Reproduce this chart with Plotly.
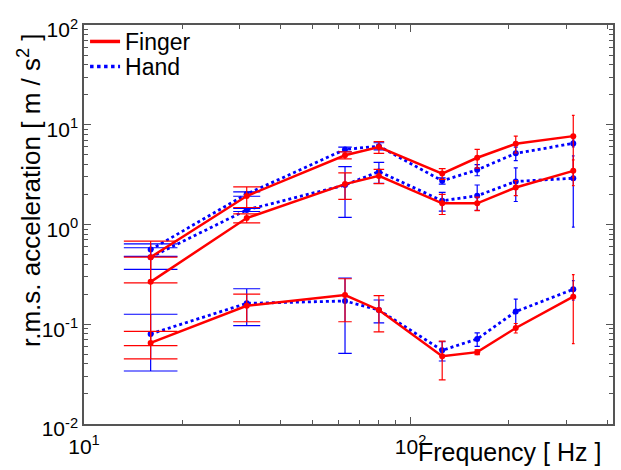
import numpy as np
import plotly.graph_objects as go

# ---------------- data ----------------
freq = [16, 31.5, 63, 80, 125, 160, 210, 315]

finger_high = [0.47, 1.93, 4.94, 5.97, 3.24, 4.67, 6.45, 7.69]
finger_high_err = [0.21, 0.45, 0.4, 0.8, 0.4, 1.0, 1.24, 4.7]
hand_high = [0.56, 2.02, 5.66, 6.10, 2.74, 3.53, 5.17, 6.50]
hand_high_err = [0.08, 0.10, 0.3, 0.5, 0.2, 0.45, 0.8, 0.5]

finger_mid = [0.266, 1.16, 2.54, 3.07, 1.63, 1.63, 2.35, 3.45]
finger_mid_err = [0.205, 0.12, 0.75, 0.5, 0.37, 0.25, 0.4, 1.0]
hand_mid = [0.47, 1.40, 2.49, 3.39, 1.73, 1.94, 2.70, 2.91]
hand_mid_err = [0.115, 0.05, 1.31, 0.8, 0.37, 0.55, 1.0, 1.97]

finger_low = [0.065, 0.153, 0.196, 0.139, 0.0477, 0.0525, 0.0917, 0.189]
finger_low_err = [0.02, 0.047, 0.09, 0.055, 0.02, 0.003, 0.01, 0.125]
hand_low = [0.080, 0.162, 0.171, 0.139, 0.0548, 0.0711, 0.134, 0.224]
hand_low_err = [0.046, 0.065, 0.12, 0.036, 0.012, 0.011, 0.045, 0.05]

x_tick_vals = [10, 100]
x_tick_text = ["10<sup>1</sup>", "10<sup>2</sup>"]
y_tick_vals = [0.01, 0.1, 1, 10, 100]
y_tick_text = ["10<sup>-2</sup>", "10<sup>-1</sup>", "10<sup>0</sup>", "10<sup>1</sup>", "10<sup>2</sup>"]

# ---------------- layout constants ----------------
W, H = 621, 470
ML, MR, MT, MB = 84, 8, 25, 46
XR = [1, 2.62]
YR = [-2, 2]
PLOT_W = W - ML - MR
PLOT_H = H - MT - MB
px_per_dec = PLOT_W / (XR[1] - XR[0])

RED = "#ff0000"
BLUE = "#0000ff"
AXC = "#555555"
FONT = "Liberation Sans, Arial, sans-serif"

# MATLAB-style error bar tee: fixed linear width in data units
tee = (max(freq) - min(freq)) / 100.0


def cap_half_width(x):
    return px_per_dec * np.log10((x + tee) / (x - tee)) / 2.0


fig = go.Figure()

series = [
    (hand_high, hand_high_err, BLUE, "dot"),
    (hand_mid, hand_mid_err, BLUE, "dot"),
    (hand_low, hand_low_err, BLUE, "dot"),
    (finger_high, finger_high_err, RED, "solid"),
    (finger_mid, finger_mid_err, RED, "solid"),
    (finger_low, finger_low_err, RED, "solid"),
]

for vals, errs, color, dash in series:
    for x, y, e in zip(freq, vals, errs):
        fig.add_trace(go.Scatter(
            x=[x], y=[y], mode="markers",
            marker=dict(size=2, color=color, opacity=0),
            error_y=dict(type="data", array=[e], symmetric=True,
                         width=cap_half_width(x), thickness=1.2, color=color),
            showlegend=False, hoverinfo="skip"))
    fig.add_trace(go.Scatter(
        x=freq, y=vals, mode="lines+markers",
        line=dict(color=color, width=2.5 if dash == "solid" else 2.8, dash=dash),
        marker=dict(size=6, color=color),
        showlegend=False))

# legend entries (line samples only), one per legend box for tight spacing
fig.add_trace(go.Scatter(x=[None], y=[None], mode="lines", name="Finger",
                         line=dict(color=RED, width=3.5), legend="legend"))
fig.add_trace(go.Scatter(x=[None], y=[None], mode="lines", name="Hand",
                         line=dict(color=BLUE, width=3.5, dash="dot"), legend="legend2"))

minor_x = [m * 10 ** k for k in (1, 2) for m in range(2, 10)]
minor_y = [m * 10.0 ** k for k in (-2, -1, 0, 1) for m in range(2, 10)]

axis_common = dict(
    type="log", showline=True, linecolor=AXC, linewidth=1.5, mirror="allticks",
    ticks="inside", ticklen=7, tickcolor=AXC, tickwidth=1,
    showgrid=False, zeroline=False,
    tickfont=dict(family=FONT, size=21, color="black"),
)

legend_common = dict(xanchor="left", yanchor="top", bgcolor="rgba(0,0,0,0)",
                     borderwidth=0, font=dict(family=FONT, size=23, color="black"))

fig.update_layout(
    width=W, height=H,
    margin=dict(l=ML, r=MR, t=MT, b=MB, autoexpand=False),
    paper_bgcolor="white", plot_bgcolor="white",
    font=dict(family=FONT, color="black"),
    xaxis=dict(range=XR, tickmode="array", tickvals=x_tick_vals, ticktext=x_tick_text,
               ticklabelstandoff=3,
               minor=dict(ticks="inside", ticklen=4, tickcolor=AXC, tickvals=minor_x),
               **axis_common),
    yaxis=dict(range=YR, tickmode="array", tickvals=y_tick_vals, ticktext=y_tick_text,
               ticklabelshift=5,
               minor=dict(ticks="inside", ticklen=4, tickcolor=AXC, tickvals=minor_y),
               **axis_common),
    legend=dict(x=0.002, y=1.0125, **legend_common),
    legend2=dict(x=0.002, y=0.95, **legend_common),
    showlegend=True,
    annotations=[
        dict(text="Frequency [ Hz ]", xref="paper", yref="paper",
             x=(603 - ML) / PLOT_W, y=-(452 - (H - MB)) / PLOT_H,
             xanchor="right", yanchor="middle", showarrow=False,
             font=dict(family=FONT, size=25, color="black")),
        dict(text="r.m.s. acceleration [ m / s<sup>2</sup> ]", xref="paper", yref="paper",
             x=(30 - ML) / PLOT_W, y=1 - (190 - MT) / PLOT_H,
             xanchor="center", yanchor="middle", textangle=-90, showarrow=False,
             font=dict(family=FONT, size=26, color="black")),
    ],
)

fig.write_html("out.html", config={"displayModeBar": False},
               post_script="document.body.style.margin='0px';")
